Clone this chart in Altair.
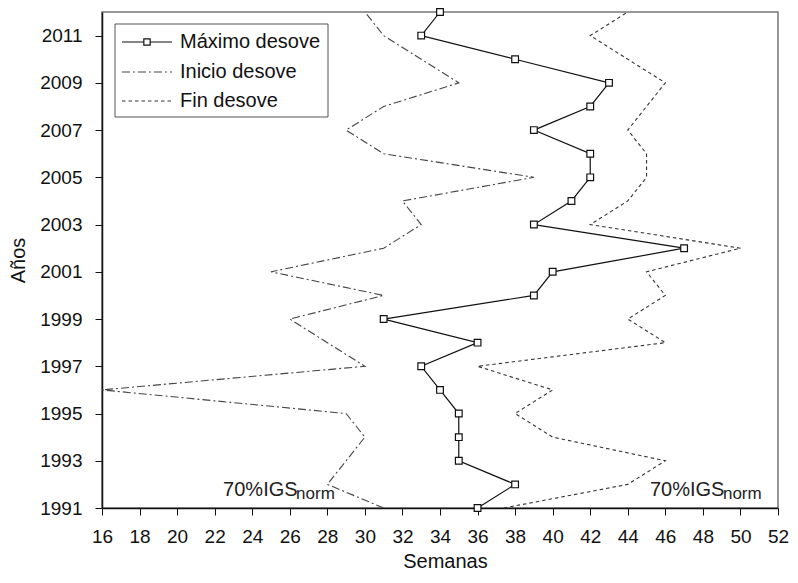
import altair as alt
import pandas as pd

# ---- data ----
years = list(range(1991, 2013))
maximo = [36, 38, 35, 35, 35, 34, 33, 36, 31, 39, 40, 47, 39, 41, 42, 42, 39, 42, 43, 38, 33, 34]
inicio = [31, 28, 29, 30, 29, 16, 30, 28, 26, 31, 25, 31, 33, 32, 39, 31, 29, 31, 35, 33, 31, 30]
fin = [37.4, 44, 46, 40, 38, 40, 36, 46, 44, 46, 45, 50, 42, 44, 45, 45, 44, 45, 46, 44, 42, 44]

series_names = ["Máximo desove", "Inicio desove", "Fin desove"]
x_ticks = list(range(16, 53, 2))
y_ticks = list(range(1991, 2012, 2))

ann_main = ["70%IGS", "70%IGS"]
ann_sub = ["norm", "norm"]
ann_x = [22.45, 45.18]
ann_y = [1991.5, 1991.5]

FONT = "Liberation Sans"

df_max = pd.DataFrame({"anio": years, "semana": maximo})
df_ini = pd.DataFrame({"anio": years, "semana": inicio})
df_fin = pd.DataFrame({"anio": years, "semana": fin})
df_ann = pd.DataFrame({"main": ann_main, "sub": ann_sub, "semana": ann_x, "anio": ann_y})

xs = alt.Scale(domain=[16, 52], nice=False, zero=False)
ys = alt.Scale(domain=[1991, 2012], nice=False, zero=False)

X = alt.X("semana:Q", scale=xs, axis=alt.Axis(
    values=x_ticks, title="Semanas", grid=False, tickSize=7, labelPadding=12,
    labelFontSize=19, titleFontSize=20, titleFontWeight="normal",
    titleX=343, titleY=53, titleBaseline="middle", titleAlign="center",
    labelFlush=False))
Y = alt.Y("anio:Q", scale=ys, axis=alt.Axis(
    values=y_ticks, format="d", title="Años", grid=False, tickSize=7, labelPadding=13,
    labelFontSize=19, titleFontSize=20, titleFontWeight="normal",
    titleX=-84, titleY=248, titleAngle=-90, titleBaseline="middle", titleAlign="center",
    labelFlush=False))

order = alt.Order("anio:Q")

line_max = alt.Chart(df_max).mark_line(color="#111", strokeWidth=1.2).encode(x=X, y=Y, order=order)
pts_max = alt.Chart(df_max).mark_point(shape="square", size=45, filled=True, fill="white",
                                       stroke="#111", strokeWidth=1.2, opacity=1).encode(x=X, y=Y)
line_ini = alt.Chart(df_ini).mark_line(color="#444", strokeWidth=1.1, strokeDash=[8, 3, 2, 3]).encode(x=X, y=Y, order=order)
line_fin = alt.Chart(df_fin).mark_line(color="#333", strokeWidth=1.1, strokeDash=[3.5, 3]).encode(x=X, y=Y, order=order)

ann1 = alt.Chart(df_ann).mark_text(align="left", baseline="alphabetic", fontSize=20, font=FONT,
                                   color="#222").encode(x=X, y=Y, text="main:N")
ann2 = alt.Chart(df_ann).mark_text(align="left", baseline="alphabetic", fontSize=17, font=FONT,
                                   color="#222", dx=73, dy=3).encode(x=X, y=Y, text="sub:N")

# ---- manual legend ----
leg_rows = [30, 60, 89]
leg_dash = [[1, 0], [8, 3, 2, 3], [3.5, 3]]
leg_color = ["#111", "#444", "#333"]
legend_layers = [
    alt.Chart(df_max.head(1)).mark_rect(fill="white", stroke="#555", strokeWidth=1).encode(
        x=alt.value(13), x2=alt.value(226), y=alt.value(12), y2=alt.value(105))
]
for i, name in enumerate(series_names):
    legend_layers.append(
        alt.Chart(pd.DataFrame({"t": [name]})).mark_rule(
            color=leg_color[i], strokeWidth=1.2 if i == 0 else 1.1, strokeDash=leg_dash[i]).encode(
            x=alt.value(20), x2=alt.value(70), y=alt.value(leg_rows[i])))
    legend_layers.append(
        alt.Chart(pd.DataFrame({"t": [name]})).mark_text(
            align="left", baseline="middle", fontSize=20, font=FONT, color="#111").encode(
            x=alt.value(78), y=alt.value(leg_rows[i]), text="t:N"))
legend_layers.append(
    alt.Chart(pd.DataFrame({"t": [series_names[0]]})).mark_point(
        shape="square", size=40, filled=True, fill="white", stroke="#111", strokeWidth=1.2, opacity=1).encode(
        x=alt.value(45), y=alt.value(leg_rows[0])))

chart = alt.layer(line_ini, line_fin, line_max, pts_max, ann1, ann2, *legend_layers).properties(
    width=676, height=496,
    autosize=alt.AutoSizeParams(type="none"),
    padding={"left": 94, "top": 4, "right": 12, "bottom": 67},
).configure_view(
    stroke="#777", strokeWidth=1.5
).configure_axis(
    domainColor="#111", tickColor="#111", labelColor="#111", titleColor="#111",
    labelFont=FONT, titleFont=FONT, domainWidth=1.5, tickWidth=1
)

chart.save("out.html", embed_options={"renderer": "svg", "actions": False})
